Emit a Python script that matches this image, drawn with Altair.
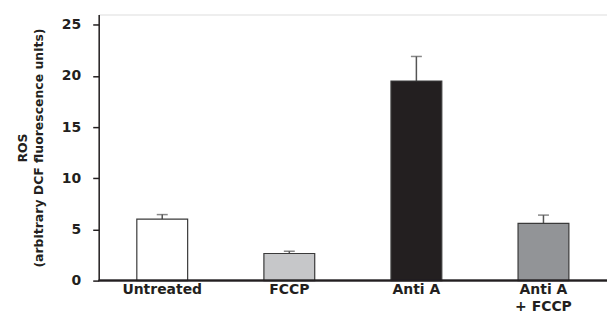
import altair as alt
import pandas as pd

categories = ["Untreated", "FCCP", "Anti A", "Anti A|+ FCCP"]
values = [6.0, 2.65, 19.5, 5.6]
errors = [0.45, 0.22, 2.4, 0.8]
colors = ["#ffffff", "#c6c7c9", "#231f20", "#929497"]

df = pd.DataFrame({"cat": categories, "val": values, "err": errors, "col": colors})
df["top"] = df["val"] + df["err"]

FONT = "DejaVu Sans"
W, H = 510, 267

x = alt.X("cat:N", sort=categories,
          scale=alt.Scale(paddingInner=0.6, paddingOuter=0.3),
          axis=alt.Axis(title=None, labelAngle=0, domain=False, ticks=False,
                        labelAlign="center",
                        labelExpr="split(datum.value, '|')",
                        labelFont=FONT, labelFontWeight="bold", labelFontSize=14,
                        labelColor="#231f20", labelPadding=9, labelLineHeight=17))
y = alt.Y("val:Q", scale=alt.Scale(domain=[0, 25]),
          axis=alt.Axis(values=[0, 5, 10, 15, 20, 25], grid=False,
                        title=["ROS", "(arbitrary DCF fluorescence units)"],
                        titleFont=FONT, titleFontWeight="bold", titleFontSize=12.5,
                        titleColor="#231f20", titleLineHeight=16, titlePadding=16,
                        labelFont=FONT, labelFontWeight="bold", labelFontSize=14,
                        labelColor="#231f20", labelPadding=12,
                        tickSize=6, tickColor="#231f20", domainColor="#231f20",
                        domainWidth=1.5, tickWidth=1.5))

base = alt.Chart(df)

err_line = base.mark_rule(color="#555555", strokeWidth=1.5).encode(
    x=alt.X("cat:N", sort=categories), y="val:Q", y2="top:Q")
err_cap = base.mark_tick(color="#555555", thickness=1.5, size=11).encode(
    x=alt.X("cat:N", sort=categories), y="top:Q")
bars = base.mark_bar(stroke="#3a3a3a", strokeWidth=1.2).encode(
    x=x, y=y, color=alt.Color("col:N", scale=None))
baseline = base.mark_rule(color="#231f20", strokeWidth=1.5).encode(
    x=alt.value(0), x2=alt.value(516), y=alt.value(H))

chart = alt.layer(err_line, err_cap, bars, baseline).properties(
    width=W, height=H, autosize=alt.AutoSizeParams(type="none"),
    padding={"left": 91, "top": 6, "right": 0, "bottom": 38}
).configure_view(stroke=None).configure(background="white")

chart.save("out.html", embed_options={"renderer": "svg", "actions": False})
